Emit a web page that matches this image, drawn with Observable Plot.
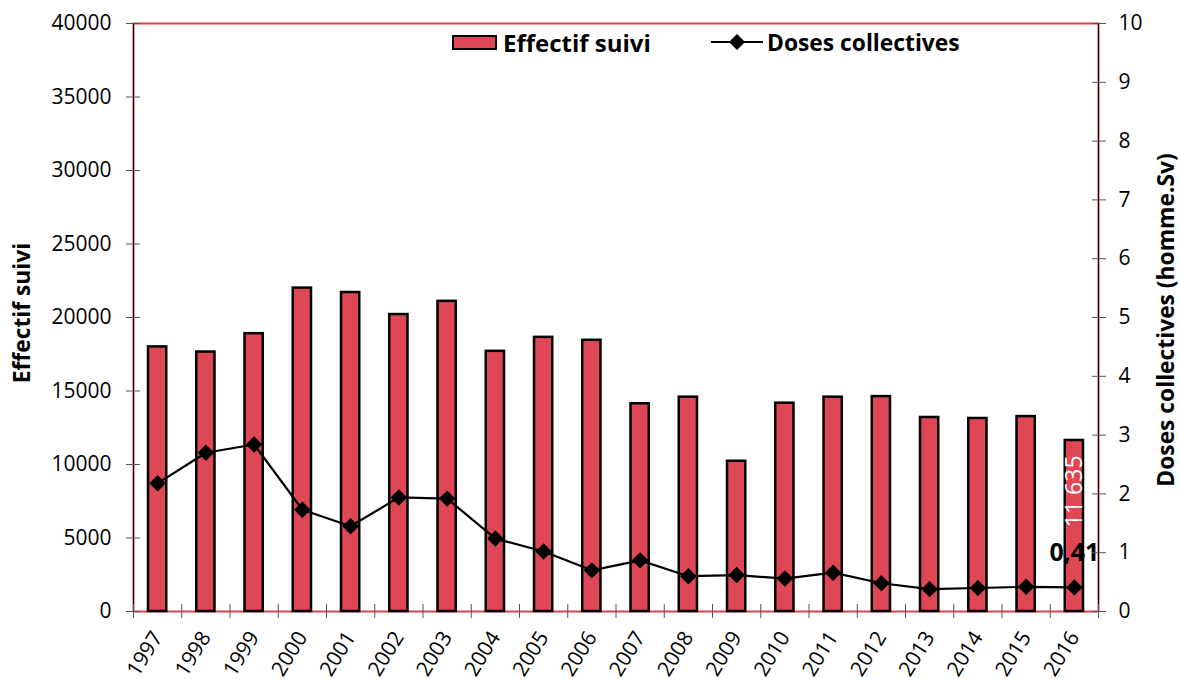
<!DOCTYPE html>
<html>
<head>
<meta charset="utf-8">
<script src="https://cdn.jsdelivr.net/npm/d3@7"></script>
<script src="https://cdn.jsdelivr.net/npm/@observablehq/plot@0.6"></script>
<style>
  html, body { margin: 0; padding: 0; background: #fff; }
  #chart { position: relative; width: 1180px; height: 679px; font-family: "Open Sans", sans-serif; color: #000; }
  #chart > svg { position: absolute; left: 0; top: 0; }
  .ytitle { position: absolute; font-weight: bold; font-size: 22.8px; white-space: nowrap; transform: translate(-50%, -50%) rotate(-90deg); }
  .legend { position: absolute; top: 29px; height: 26px; display: flex; align-items: center; font-weight: bold; font-size: 24px; white-space: nowrap; }
  .swatch { width: 41px; height: 11px; background: #DE4754; border: 2px solid #000; margin-right: 6px; }
  .legend svg { display: block; }
</style>
</head>
<body>
<div id="chart"></div>
<script>
// ---- data ----
const years = ["1997","1998","1999","2000","2001","2002","2003","2004","2005","2006",
               "2007","2008","2009","2010","2011","2012","2013","2014","2015","2016"];
const effectif = [18000, 17650, 18900, 22000, 21700, 20200, 21100, 17700, 18650, 18450,
                  14130, 14580, 10220, 14170, 14580, 14620, 13200, 13130, 13260, 11635];
const doses = [2.18, 2.70, 2.84, 1.73, 1.45, 1.94, 1.92, 1.24, 1.02, 0.70,
               0.87, 0.60, 0.62, 0.56, 0.66, 0.48, 0.38, 0.40, 0.42, 0.41];
const leftTicks = [0, 5000, 10000, 15000, 20000, 25000, 30000, 35000, 40000];
const rightTicks = [0, 1, 2, 3, 4, 5, 6, 7, 8, 9, 10];
const leftTitle = "Effectif suivi";
const rightTitle = "Doses collectives (homme.Sv)";
const seriesBar = "Effectif suivi";
const seriesLine = "Doses collectives";
const lastEffectifLabel = "11 635";
const lastDoseLabel = "0,41";

// ---- layout ----
const W = 1180, H = 679;
const mL = 133, mR = 82, mT = 23, mB = 68;
const K = 40000 / 10; // right axis (0–10) mapped onto left axis (0–40000)
const BW = (W - mL - mR) / years.length;
const barColor = "#DE4754";
const frameColor = "#D9434F";
const tickColor = "#555";

const data = years.map((year, i) => ({year, effectif: effectif[i], dose: doses[i]}));
const last = [data[data.length - 1]];

const chart = Plot.plot({
  width: W, height: H,
  marginLeft: mL, marginRight: mR, marginTop: mT, marginBottom: mB,
  style: {fontFamily: "Open Sans, sans-serif", fontSize: "21px", color: "#000", background: "#fff", overflow: "visible"},
  x: {type: "band", domain: years, padding: 0, round: false, label: null},
  y: {domain: [0, 40000], label: null},
  marks: [
    Plot.frame({stroke: frameColor, strokeWidth: 2}),
    Plot.ruleX([years[0]], {x: d => d, dx: -BW / 2, stroke: "#000", strokeWidth: 1}),
    Plot.ruleX([years[years.length - 1]], {x: d => d, dx: BW / 2, stroke: "#000", strokeWidth: 1}),
    Plot.barY(data, {x: "year", y: "effectif", fill: barColor, stroke: "#000", strokeWidth: 2.5, insetLeft: 15, insetRight: 15}),
    Plot.text(last, {x: "year", y: "effectif", text: () => lastEffectifLabel, rotate: -90, textAnchor: "end", dy: 15, fill: "#fff", fontSize: 23}),
    Plot.line(data, {x: "year", y: d => d.dose * K, stroke: "#000", strokeWidth: 2.2}),
    Plot.dot(data, {x: "year", y: d => d.dose * K, symbol: "diamond2", r: 7.4, fill: "#000", stroke: "none"}),
    Plot.text(last, {x: "year", y: d => d.dose * K, text: () => lastDoseLabel, dy: -34, fontWeight: "bold", fontSize: 25, fill: "#000"}),
    // x axis ticks at category boundaries
    Plot.ruleX(years, {x: d => d, y1: 0, y2: 0, insetTop: -7, insetBottom: -7, dx: -BW / 2, stroke: tickColor}),
    Plot.ruleX([years[years.length - 1]], {x: d => d, y1: 0, y2: 0, insetTop: -7, insetBottom: -7, dx: BW / 2, stroke: tickColor}),
    Plot.axisX({anchor: "bottom", tickSize: 0, tickPadding: 22, tickRotate: -58, fontSize: 21, label: null}),
    // left axis
    Plot.axisY({anchor: "left", ticks: leftTicks, tickSize: 14, dx: 7, tickFormat: () => "", stroke: tickColor, label: null}),
    Plot.axisY({anchor: "left", ticks: leftTicks, tickSize: 0, tickPadding: 22, tickFormat: d => String(d), fontSize: 21, label: null}),
    // right axis
    Plot.axisY({anchor: "right", ticks: rightTicks.map(v => v * K), tickSize: 14, dx: -7, tickFormat: () => "", stroke: tickColor, label: null}),
    Plot.axisY({anchor: "right", ticks: rightTicks.map(v => v * K), tickSize: 0, tickPadding: 20, tickFormat: d => String(d / K), fontSize: 21, label: null})
  ]
});

const root = document.getElementById("chart");
root.appendChild(chart);

function addDiv(cls, html, style) {
  const el = document.createElement("div");
  el.className = cls;
  el.innerHTML = html;
  Object.assign(el.style, style);
  root.appendChild(el);
  return el;
}
addDiv("ytitle", leftTitle, {left: "21px", top: "313px"});
addDiv("ytitle", rightTitle, {left: "1165px", top: "320px"});
addDiv("legend", `<div class="swatch"></div><span>${seriesBar}</span>`, {left: "452px"});
addDiv("legend",
  `<svg width="54" height="24" style="margin-right:2px"><line x1="0" y1="12" x2="52" y2="12" stroke="#000" stroke-width="2"/><path d="M26,4 L34,12 L26,20 L18,12 Z" fill="#000"/></svg><span style="font-size:22.8px">${seriesLine}</span>`,
  {left: "711px"});
</script>
</body>
</html>
